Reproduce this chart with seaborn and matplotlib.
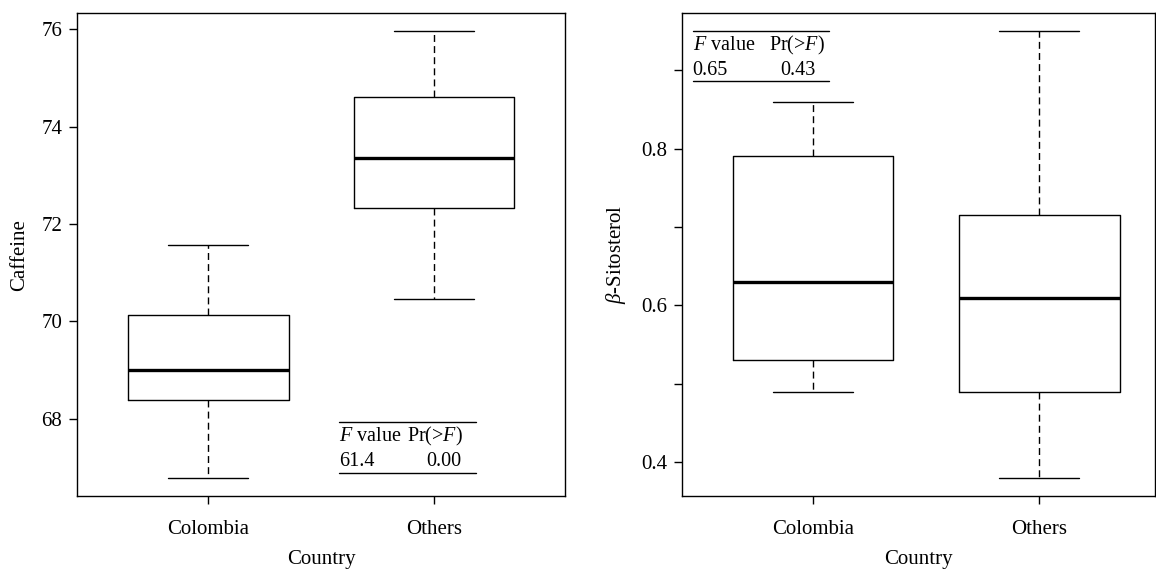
import matplotlib
matplotlib.use("Agg")
import matplotlib.pyplot as plt
import pandas as pd
import seaborn as sns

# five-number summaries (min, Q1, median, Q3, max)
countries = ["Colombia", "Others"]
caffeine_colombia = [66.78, 68.39, 69.00, 70.13, 71.57]
caffeine_others = [70.46, 72.32, 73.36, 74.60, 75.96]
sitosterol_colombia = [0.49, 0.53, 0.63, 0.79, 0.86]
sitosterol_others = [0.38, 0.49, 0.61, 0.715, 0.95]

# anova results shown in the panels
caffeine_anova = ["61.4", "0.00"]
sitosterol_anova = ["0.65", "0.43"]

data = pd.DataFrame({
    "Country": [countries[0]] * 5 + [countries[1]] * 5,
    "Caffeine": caffeine_colombia + caffeine_others,
    "Sitosterol": sitosterol_colombia + sitosterol_others,
})

sns.set_theme(style="ticks")
plt.rcParams["font.family"] = ["Liberation Serif", "DejaVu Serif"]
plt.rcParams["mathtext.fontset"] = "custom"
plt.rcParams["mathtext.rm"] = "Liberation Serif"
plt.rcParams["mathtext.it"] = "Liberation Serif:italic"
plt.rcParams["text.color"] = "black"
plt.rcParams["axes.labelcolor"] = "black"

fs = 15
tfs = 14.5
fig = plt.figure(figsize=(11.56, 5.69), dpi=100)
ax1 = fig.add_axes([0.0669, 0.1278, 0.4221, 0.8489])
ax2 = fig.add_axes([0.58997, 0.1278, 0.4092, 0.8489])

box_kws = dict(
    fill=False,
    color="black",
    linecolor="black",
    width=0.71,
    whis=(0, 100),
    showfliers=False,
    linewidth=1.0,
    medianprops={"linewidth": 2.4},
    whiskerprops={"linestyle": (0, (5, 3))},
)

sns.boxplot(data=data, x="Country", y="Caffeine", ax=ax1, **box_kws)
sns.boxplot(data=data, x="Country", y="Sitosterol", ax=ax2, **box_kws)

ax1.set_xlim(-0.58, 1.58)
ax1.set_ylim(66.406, 76.33)
ax1.set_yticks([68, 70, 72, 74, 76])
ax1.set_ylabel("Caffeine", fontsize=fs, labelpad=9)

ax2.set_xlim(-0.58, 1.512)
ax2.set_ylim(0.3566, 0.9727)
ax2.set_yticks([0.4, 0.5, 0.6, 0.7, 0.8, 0.9])
ax2.set_yticklabels(["0.4", "", "0.6", "", "0.8", ""])
ax2.set_ylabel(r"$\beta$-Sitosterol", fontsize=fs, labelpad=9)

for ax in (ax1, ax2):
    ax.set_xlabel("Country", fontsize=fs, labelpad=8)
    ax.tick_params(axis="both", direction="out", length=5.8, width=1.0,
                   color="black", labelsize=fs, labelcolor="black")
    ax.tick_params(axis="y", pad=5)
    ax.tick_params(axis="x", pad=11)
    for s in ax.spines.values():
        s.set_visible(True)
        s.set_linewidth(1.0)
        s.set_color("black")


def anova_table(ax, x0, x1, x_pr, x_p, y_top, y_r1, y_r2, y_bot, vals):
    tr = ax.transAxes
    ax.plot([x0, x1], [y_top, y_top], transform=tr, color="black", lw=1.0,
            clip_on=False)
    ax.plot([x0, x1], [y_bot, y_bot], transform=tr, color="black", lw=1.0,
            clip_on=False)
    ax.text(x0, y_r1, r"$F$ value", transform=tr, fontsize=tfs,
            va="center", ha="left", color="black")
    ax.text(x_pr, y_r1, r"Pr(>$F$)", transform=tr, fontsize=tfs,
            va="center", ha="left", color="black")
    ax.text(x0, y_r2, vals[0], transform=tr, fontsize=tfs,
            va="center", ha="left", color="black")
    ax.text(x_p, y_r2, vals[1], transform=tr, fontsize=tfs,
            va="center", ha="left", color="black")


anova_table(ax1, 0.536, 0.816, 0.676, 0.716, 0.1532, 0.1234, 0.0716, 0.0489,
            caffeine_anova)
anova_table(ax2, 0.0226, 0.3116, 0.1833, 0.208, 0.964, 0.9342, 0.8824,
            0.8596, sitosterol_anova)

fig.savefig("out.png", dpi=100)
